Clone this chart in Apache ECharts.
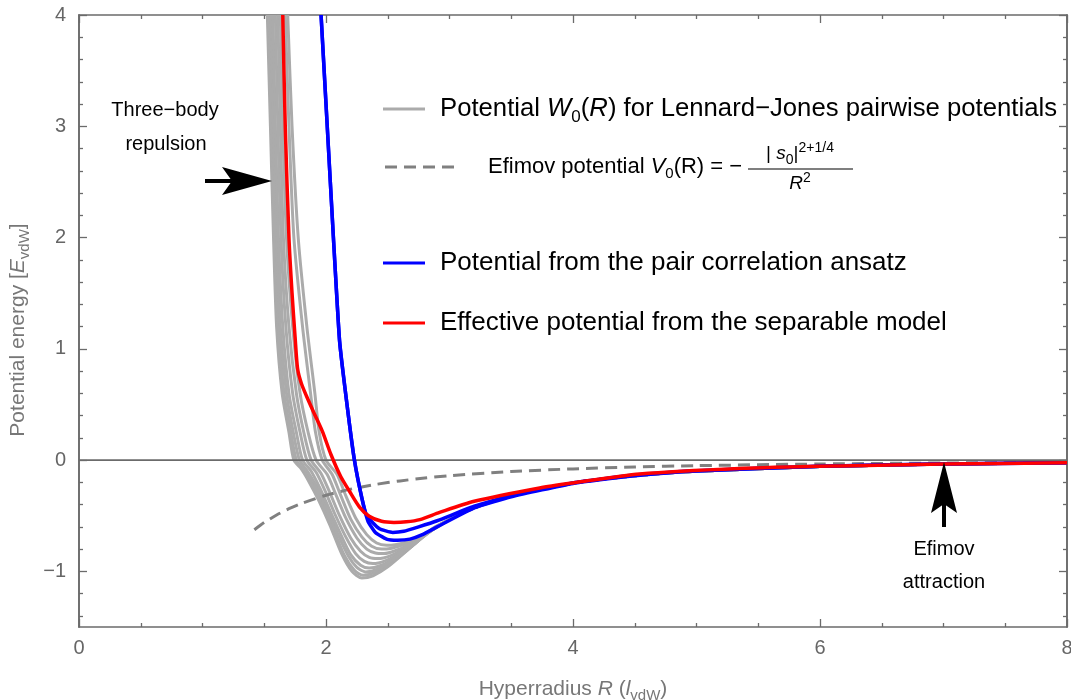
<!DOCTYPE html>
<html>
<head>
<meta charset="utf-8">
<script src="https://cdn.jsdelivr.net/npm/echarts@6/dist/echarts.min.js"></script>
<style>
  html, body { margin: 0; padding: 0; background: #fff; }
  #chart { width: 1071px; height: 700px; }
</style>
</head>
<body>
<div id="chart"></div>
<script>
// Axis ticks
const xMajorTicks = [0, 2, 4, 6, 8];
const yMajorTicks = [-1, 0, 1, 2, 3, 4];
const yMinorTicks = [-1.4, -1.2, -0.8, -0.6, -0.4, -0.2, 0.2, 0.4, 0.6, 0.8,
  1.2, 1.4, 1.6, 1.8, 2.2, 2.4, 2.6, 2.8, 3.2, 3.4, 3.6, 3.8];

// Three-body potentials W0(R) for a set of Lennard-Jones pair potentials [R, E]
const grayTail = [[3.0, -0.535], [3.2, -0.43], [3.5, -0.32], [4.0, -0.205], [4.5, -0.14],
  [5.0, -0.1], [6.0, -0.058], [7.0, -0.036], [8.0, -0.024]];
const ljCurve1 = [[1.525, 4], [1.55, 3], [1.575, 2], [1.60, 1.2], [1.645, 0.6], [1.70, 0.25], [1.74, 0],
  [1.80, -0.08], [1.86, -0.19], [1.94, -0.36], [2.03, -0.58], [2.13, -0.85], [2.21, -1.0], [2.29, -1.06],
  [2.38, -1.04], [2.5, -0.96], [2.68, -0.79], [2.86, -0.62]];
const ljCurve2 = [[1.54, 4], [1.56, 3], [1.585, 2], [1.615, 1.2], [1.66, 0.6], [1.715, 0.25], [1.76, 0],
  [1.82, -0.09], [1.89, -0.21], [1.97, -0.39], [2.06, -0.62], [2.15, -0.86], [2.23, -0.99], [2.30, -1.035],
  [2.40, -1.01], [2.52, -0.93], [2.7, -0.77], [2.87, -0.61]];
const ljCurve3 = [[1.555, 4], [1.575, 3], [1.60, 2], [1.63, 1.2], [1.68, 0.6], [1.735, 0.25], [1.785, 0],
  [1.85, -0.1], [1.92, -0.23], [2.0, -0.42], [2.09, -0.65], [2.18, -0.86], [2.25, -0.965], [2.32, -1.005],
  [2.42, -0.98], [2.54, -0.9], [2.72, -0.75], [2.88, -0.61]];
const ljCurve4 = [[1.57, 4], [1.59, 3], [1.615, 2], [1.65, 1.2], [1.70, 0.6], [1.76, 0.25], [1.81, 0],
  [1.88, -0.1], [1.95, -0.25], [2.03, -0.45], [2.12, -0.67], [2.20, -0.85], [2.28, -0.945], [2.35, -0.97],
  [2.45, -0.945], [2.57, -0.87], [2.74, -0.73], [2.89, -0.60]];
const ljCurve5 = [[1.59, 4], [1.61, 3], [1.635, 2], [1.675, 1.2], [1.73, 0.6], [1.79, 0.25], [1.845, 0],
  [1.92, -0.11], [1.99, -0.27], [2.07, -0.48], [2.16, -0.69], [2.24, -0.84], [2.31, -0.91], [2.38, -0.93],
  [2.48, -0.905], [2.6, -0.84], [2.76, -0.71], [2.9, -0.6]];
const ljCurve6 = [[1.61, 4], [1.63, 3], [1.655, 2], [1.70, 1.2], [1.76, 0.6], [1.82, 0.25], [1.88, 0],
  [1.96, -0.12], [2.03, -0.29], [2.11, -0.5], [2.2, -0.7], [2.28, -0.82], [2.35, -0.875], [2.42, -0.885],
  [2.52, -0.86], [2.63, -0.8], [2.78, -0.69], [2.91, -0.59]];
const ljCurve7 = [[1.63, 4], [1.65, 3], [1.68, 2], [1.73, 1.2], [1.79, 0.6], [1.855, 0.25], [1.92, 0],
  [2.01, -0.13], [2.08, -0.31], [2.16, -0.52], [2.25, -0.7], [2.33, -0.8], [2.40, -0.835], [2.47, -0.84],
  [2.56, -0.815], [2.66, -0.765], [2.8, -0.67], [2.92, -0.585]];
const ljCurve8 = [[1.67, 4], [1.70, 3], [1.74, 2], [1.81, 1.2], [1.875, 0.6], [1.915, 0.25], [1.97, 0],
  [2.05, -0.13], [2.12, -0.32], [2.2, -0.53], [2.29, -0.69], [2.37, -0.775], [2.45, -0.8], [2.52, -0.795],
  [2.6, -0.77], [2.7, -0.73], [2.82, -0.655], [2.93, -0.58]];
const ljCurve9 = [[1.69, 4], [1.725, 3], [1.775, 2], [1.845, 1.2], [1.91, 0.6], [1.945, 0.25], [2.00, 0],
  [2.09, -0.13], [2.16, -0.32], [2.24, -0.52], [2.33, -0.67], [2.41, -0.745], [2.49, -0.765], [2.56, -0.76],
  [2.64, -0.74], [2.73, -0.7], [2.84, -0.64], [2.94, -0.575]];
const ljCurves = [ljCurve1, ljCurve2, ljCurve3, ljCurve4, ljCurve5, ljCurve6, ljCurve7, ljCurve8, ljCurve9];

// Efimov potential V0(R) = -(|s0|^2 + 1/4) / R^2
const efimovCurve = [[1.42, -0.626], [1.5, -0.561], [1.6, -0.493], [1.7, -0.437], [1.8, -0.39],
  [2.0, -0.316], [2.2, -0.261], [2.4, -0.219], [2.6, -0.187], [2.8, -0.161], [3.0, -0.14],
  [3.5, -0.103], [4.0, -0.079], [4.5, -0.062], [5.0, -0.05], [6.0, -0.035], [7.0, -0.026], [8.0, -0.02]];

// Pair correlation ansatz (two nearly coincident curves)
const pairCurveA = [[1.96, 4], [2.01, 3], [2.06, 2], [2.11, 1.07], [2.17, 0.5], [2.23, 0], [2.29, -0.34],
  [2.33, -0.5], [2.43, -0.615], [2.54, -0.65], [2.63, -0.64], [2.75, -0.6], [2.9, -0.545],
  [3.2, -0.415], [3.5, -0.32], [4.0, -0.205], [4.5, -0.135], [5.0, -0.095], [6.0, -0.055],
  [7.0, -0.035], [8.0, -0.024]];
const pairCurveB = [[1.96, 4], [2.01, 3], [2.06, 2], [2.11, 1.07], [2.17, 0.5], [2.23, 0], [2.29, -0.34],
  [2.34, -0.55], [2.4, -0.65], [2.49, -0.71], [2.58, -0.72], [2.68, -0.71], [2.78, -0.67], [2.9, -0.6],
  [3.2, -0.43], [3.5, -0.33], [4.0, -0.21], [4.5, -0.14], [5.0, -0.097], [6.0, -0.056],
  [7.0, -0.036], [8.0, -0.024]];

// Effective potential of the separable model
const separableCurve = [[1.65, 4], [1.67, 3], [1.70, 2], [1.725, 1.5], [1.75, 1.1], [1.77, 0.82],
  [1.80, 0.69], [1.84, 0.58], [1.90, 0.43], [1.97, 0.26], [2.04, 0.05], [2.12, -0.15], [2.19, -0.28],
  [2.27, -0.42], [2.35, -0.505], [2.45, -0.55], [2.55, -0.56], [2.65, -0.555], [2.76, -0.535],
  [2.92, -0.47], [3.2, -0.37], [3.73, -0.25], [4.0, -0.205], [4.54, -0.125], [5.35, -0.075],
  [6.16, -0.052], [7.0, -0.036], [8.0, -0.025]];

const zeroLine = [[0, 0], [8, 0]];

const FONT = '"Liberation Sans", Arial, Helvetica, sans-serif';
const AXIS_GRAY = '#6b6b6b';
const minus = v => (v < 0 ? '\u2212' + Math.abs(v) : String(v));

const frameLine = { show: true, onZero: false, lineStyle: { color: AXIS_GRAY, width: 1.6 } };
const tickStyle = { color: AXIS_GRAY, width: 1.3 };

function xAxisDef(position, withLabels) {
  return {
    type: 'value', position, min: 0, max: 8, interval: 2,
    axisLine: frameLine,
    axisTick: { show: true, inside: true, length: 8, lineStyle: tickStyle },
    minorTick: { show: true, splitNumber: 4, length: 4, lineStyle: tickStyle },
    splitLine: { show: false }, minorSplitLine: { show: false },
    axisLabel: { show: withLabels, color: '#666', fontSize: 20, fontFamily: FONT, margin: 11, formatter: minus }
  };
}
function yAxisDef(position, ticks, tickLen, withLabels) {
  return {
    type: 'value', position, min: -1.5, max: 4,
    axisLine: frameLine,
    axisTick: { show: true, inside: true, length: tickLen, customValues: ticks, lineStyle: tickStyle },
    splitLine: { show: false },
    axisLabel: withLabels
      ? { show: true, customValues: yMajorTicks, color: '#666', fontSize: 20, fontFamily: FONT, margin: 13, formatter: minus }
      : { show: false }
  };
}

const nameRich = {
  n: { fontSize: 21, fontFamily: FONT, color: '#777', lineHeight: 28, verticalAlign: 'middle' },
  i: { fontSize: 21, fontFamily: FONT, color: '#777', fontStyle: 'italic', lineHeight: 28, verticalAlign: 'middle' },
  s: { fontSize: 15, fontFamily: FONT, color: '#777', lineHeight: 15, verticalAlign: 'bottom' }
};

const xBottom = xAxisDef('bottom', true);
xBottom.name = '{n|Hyperradius }{i|R}{n| (}{i|l}{s|vdW}{n|)}';
xBottom.nameLocation = 'middle';
xBottom.nameGap = 48;
xBottom.nameTextStyle = { rich: nameRich };

const yLeft = yAxisDef('left', yMajorTicks, 8, true);
yLeft.name = '{n|Potential energy [}{i|E}{s|vdW}{n|]}';
yLeft.nameLocation = 'middle';
yLeft.nameGap = 42;
yLeft.nameTextStyle = { rich: nameRich, padding: [0, 18, 0, 0] };

function curveSeries(data, color, width, z, extra) {
  return Object.assign({
    type: 'line', data, xAxisIndex: 0, yAxisIndex: 0, symbol: 'none', smooth: 0.25,
    lineStyle: { color, width }, z, silent: true, clip: true
  }, extra || {});
}

const series = [];
ljCurves.forEach(c => series.push(curveSeries(c.concat(grayTail), '#ababab', 3, 2)));
series.push(curveSeries(zeroLine, AXIS_GRAY, 1.6, 3, { smooth: false }));
series.push(curveSeries(efimovCurve, '#808080', 3, 4, { lineStyle: { color: '#808080', width: 3, type: [12, 7] } }));
series.push(curveSeries(pairCurveA, '#0000ff', 3.5, 5, { smooth: 0.15 }));
series.push(curveSeries(pairCurveB, '#0000ff', 3.5, 5, { smooth: 0.15 }));
series.push(curveSeries(separableCurve, '#ff0000', 3.5, 6));

function makeRich(size, subSize) {
  return {
    n: { fontSize: size, fontFamily: FONT, fill: '#000', lineHeight: size + 7, verticalAlign: 'middle' },
    i: { fontSize: size, fontFamily: FONT, fill: '#000', fontStyle: 'italic', lineHeight: size + 7, verticalAlign: 'middle' },
    s: { fontSize: subSize, fontFamily: FONT, fill: '#000', lineHeight: subSize, verticalAlign: 'bottom' },
    p: { fontSize: subSize, fontFamily: FONT, fill: '#000', lineHeight: subSize, verticalAlign: 'top' }
  };
}
const legRich1 = makeRich(25.7, 17);
const legRich = makeRich(26, 18);
const efiRich = makeRich(22, 15);
const fracRich = makeRich(19, 14);

function legendText(x, y, text, rich, size) {
  return { type: 'text', x, y, z: 100,
    style: { text, rich, fontSize: size, fontFamily: FONT, fill: '#000', align: 'left', verticalAlign: 'middle' } };
}
function legendLine(x1, x2, y, stroke, dash) {
  return { type: 'line', z: 100, shape: { x1, y1: y, x2, y2: y },
    style: { stroke, lineWidth: 3, lineDash: dash || null } };
}
function noteText(x, y, text) {
  return { type: 'text', x, y, z: 100,
    style: { text, fontSize: 20, fontFamily: FONT, fill: '#000', align: 'center', verticalAlign: 'middle' } };
}

const graphic = [
  legendLine(383, 425, 109, '#ababab'),
  legendText(440, 109, '{n|Potential }{i|W}{s|0}{n|(}{i|R}{n|) for Lennard\u2212Jones pairwise potentials}', legRich1, 25.7),
  legendLine(385, 455, 167, '#808080', [12, 7]),
  legendText(488, 167, '{n|Efimov potential }{i|V}{s|0}{n|(R) = \u2212}', efiRich, 22),
  { type: 'text', x: 800, y: 154, z: 100,
    style: { text: '{n|| }{i|s}{s|0}{n||}{p|2+1/4}', rich: fracRich, fontSize: 19, fontFamily: FONT, fill: '#000', align: 'center', verticalAlign: 'middle' } },
  { type: 'line', z: 100, shape: { x1: 748, y1: 169, x2: 853, y2: 169 }, style: { stroke: '#000', lineWidth: 1.2 } },
  { type: 'text', x: 800, y: 184, z: 100,
    style: { text: '{i|R}{p|2}', rich: fracRich, fontSize: 19, fontFamily: FONT, fill: '#000', align: 'center', verticalAlign: 'middle' } },
  legendLine(383, 425, 263, '#0000ff'),
  legendText(440, 263, '{n|Potential from the pair correlation ansatz}', legRich, 26),
  legendLine(383, 425, 323, '#ff0000'),
  legendText(440, 323, '{n|Effective potential from the separable model}', legRich, 26),

  // Three-body repulsion note and arrow
  noteText(165, 110, 'Three\u2212body'),
  noteText(166, 144, 'repulsion'),
  { type: 'rect', z: 100, shape: { x: 205, y: 179, width: 28, height: 4 }, style: { fill: '#000' } },
  { type: 'polygon', z: 100, shape: { points: [[272, 181], [222, 167], [232, 181], [222, 195]] }, style: { fill: '#000' } },

  // Efimov attraction note and arrow
  noteText(944, 549, 'Efimov'),
  noteText(944, 582, 'attraction'),
  { type: 'rect', z: 100, shape: { x: 942, y: 503, width: 4, height: 24 }, style: { fill: '#000' } },
  { type: 'polygon', z: 100, shape: { points: [[944, 462], [957, 513], [944, 504], [931, 513]] }, style: { fill: '#000' } }
];

const chart = echarts.init(document.getElementById('chart'), null, { renderer: 'canvas' });
chart.setOption({
  animation: false,
  backgroundColor: '#ffffff',
  grid: { left: 79, right: 4, top: 15, bottom: 73, containLabel: false, outerBoundsMode: 'none' },
  xAxis: [xBottom, xAxisDef('top', false)],
  yAxis: [
    yLeft,
    yAxisDef('left', yMinorTicks, 4, false),
    yAxisDef('right', yMajorTicks, 8, false),
    yAxisDef('right', yMinorTicks, 4, false)
  ],
  series,
  graphic
});
</script>
</body>
</html>
